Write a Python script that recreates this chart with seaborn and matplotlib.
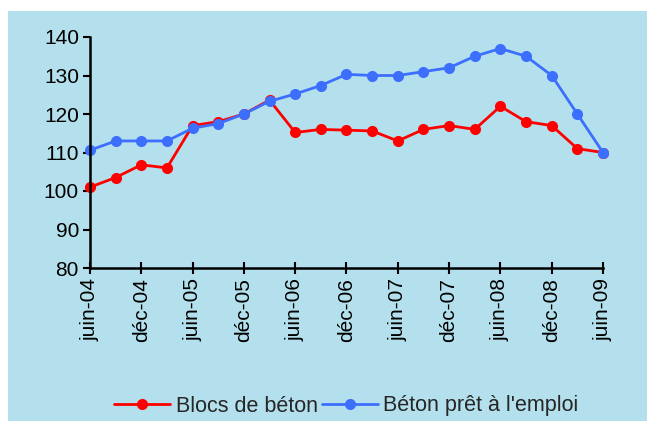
import pandas as pd
import numpy as np
import seaborn as sns
import matplotlib.pyplot as plt
from matplotlib.patches import Rectangle

# --- data (quarterly index, juin-04 .. juin-09) ---
periodes = ['juin-04', 'sept-04', 'déc-04', 'mars-05', 'juin-05', 'sept-05', 'déc-05',
            'mars-06', 'juin-06', 'sept-06', 'déc-06', 'mars-07', 'juin-07', 'sept-07',
            'déc-07', 'mars-08', 'juin-08', 'sept-08', 'déc-08', 'mars-09', 'juin-09']
blocs = [101, 103.5, 106.8, 106, 117, 118, 120, 123.6, 115.2, 116, 115.8,
         115.6, 113, 116, 117, 116, 122, 118, 117, 111, 110]
bpe = [110.6, 113, 113, 113, 116.3, 117.5, 120, 123.3, 125.2, 127.4, 130.3,
       130, 130, 131, 132, 135, 137, 135, 130, 120, 110]

df = pd.DataFrame({
    'idx': list(range(len(periodes))) * 2,
    'valeur': blocs + bpe,
    'serie': ['Blocs de béton'] * len(blocs) + ["Béton prêt à l'emploi"] * len(bpe),
})

sns.set_style("ticks")
plt.rcParams['font.family'] = ['Liberation Sans', 'DejaVu Sans']

fig = plt.figure(figsize=(6.47, 4.21), dpi=100)
bg = '#b3e0ec'
fond = Rectangle((8 / 647, 0), 1, 1 - 11 / 421, transform=fig.transFigure,
                 facecolor=bg, edgecolor='none', zorder=-5)
fig.add_artist(fond)
ax = fig.add_axes([90 / 647, 1 - 268 / 421, (603 - 90) / 647, (268 - 37) / 421])
ax.set_facecolor(bg)
ax.patch.set_alpha(0)

sns.lineplot(data=df, x='idx', y='valeur', hue='serie',
             palette={'Blocs de béton': '#ff0000', "Béton prêt à l'emploi": '#3d6fff'},
             marker='o', markersize=8, markeredgewidth=0, linewidth=2, ax=ax)

ax.set_ylim(80, 140)
ax.set_yticks(range(80, 141, 10))
ax.set_xlim(0, len(periodes) - 1)
ax.set_xticks(range(0, len(periodes), 2))
ax.set_xticklabels(periodes[::2], rotation=90)
ax.set_xlabel('')
ax.set_ylabel('')
ax.tick_params(axis='both', labelsize=15, width=1.5, length=5, colors='black', pad=3)
ax.tick_params(axis='x', direction='inout', length=8)
for s in ['top', 'right']:
    ax.spines[s].set_visible(False)
for s in ['left', 'bottom']:
    ax.spines[s].set_linewidth(1.8)
    ax.spines[s].set_color('black')
    ax.spines[s].set_clip_on(False)
for l in ax.lines:
    l.set_clip_on(False)

leg_y = (1 - 406 / 421 - (1 - 268 / 421)) / ((268 - 37) / 421)
ax.legend(loc='center', bbox_to_anchor=(0.5, leg_y),
          ncol=2, frameon=False, fontsize=15.5, handlelength=2.6, columnspacing=0.2,
          handletextpad=0.25)

fig.savefig('out.png', dpi=100, facecolor='white')
